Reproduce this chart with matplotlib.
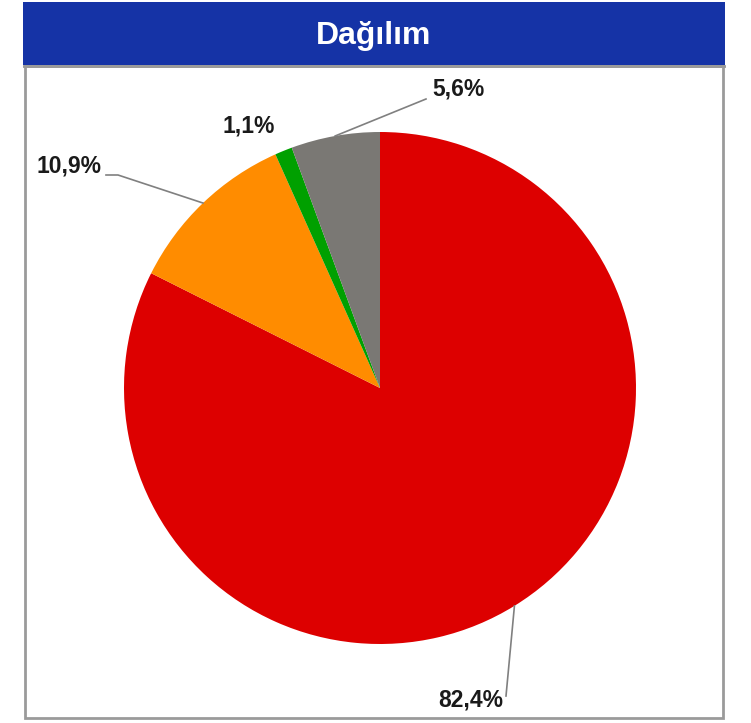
import matplotlib.pyplot as plt
from matplotlib.patches import Rectangle
import numpy as np

# data
categories = ['A', 'B', 'C', 'D']
shares = [82.4, 10.9, 1.1, 5.6]
labels = ['82,4%', '10,9%', '1,1%', '5,6%']
colors = ['#dd0000', '#ff8c00', '#00a000', '#7a7874']
title = 'Dağılım'

W, H = 751, 723
plt.rcParams['font.family'] = ['Liberation Sans', 'DejaVu Sans']

fig = plt.figure(figsize=(W / 100, H / 100), dpi=100)
ax = fig.add_axes([0, 0, 1, 1])

def Y(y):
    return H - y

cx, cy, r = 380, 388, 256
wedges, _ = ax.pie(shares, colors=colors, startangle=90, counterclock=False,
                   center=(cx, Y(cy)), radius=r, frame=True,
                   wedgeprops=dict(linewidth=0))

ax.set_xlim(0, W)
ax.set_ylim(0, H)
ax.set_aspect('auto')
ax.axis('off')

# header bar and frame
ax.add_patch(Rectangle((23, Y(65)), 702, 63, facecolor='#1533a6', edgecolor='none', zorder=3))
ax.plot([24, 724], [Y(66), Y(66)], color='#909090', lw=2, zorder=4)
ax.add_patch(Rectangle((25, Y(718)), 698, 652, facecolor='none', edgecolor='#9a9a9a', lw=2, zorder=4))
ax.text(374, Y(36), title, color='white', fontsize=23, fontweight='bold',
        ha='center', va='center', zorder=5)

# label positions (layout)
label_pos = [(503, 700, 'right'), (101, 166, 'right'), (223, 126, 'left'), (432, 89, 'left')]
line_end = [(506, 696), (106, 175), None, (426, 99)]

for w, lab, (tx, ty, ha), end in zip(wedges, labels, label_pos, line_end):
    mid = np.deg2rad((w.theta1 + w.theta2) / 2)
    ex, ey = cx + r * np.cos(mid), Y(cy) + r * np.sin(mid)
    if end is not None:
        if lab == '10,9%':
            ax.plot([end[0], end[0] + 12, ex], [Y(end[1]), Y(end[1]), ey], color='#808080', lw=1.2, zorder=2)
        else:
            ax.plot([end[0], ex], [Y(end[1]), ey], color='#808080', lw=1.2, zorder=2)
    ax.text(tx, Y(ty), lab, fontsize=16.5, fontweight='bold', color='#1a1a1a',
            ha=ha, va='center')

fig.savefig('out.png', dpi=100, facecolor='white')
